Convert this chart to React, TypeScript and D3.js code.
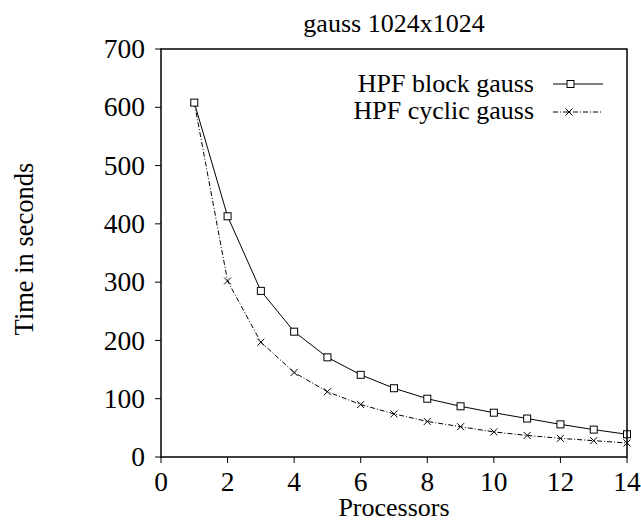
import React from 'react';
import * as d3 from 'd3';

const processors = [1, 2, 3, 4, 5, 6, 7, 8, 9, 10, 11, 12, 13, 14];
const blockGauss = [608, 413, 285, 215, 171, 141, 118, 100, 87, 76, 66, 56, 47, 39];
const cyclicGauss = [608, 302, 197, 145, 112, 90, 74, 61, 52, 43, 37, 32, 28, 24];
const xTicks = [0, 2, 4, 6, 8, 10, 12, 14];
const yTicks = [0, 100, 200, 300, 400, 500, 600, 700];

const width = 641;
const height = 523;
const margin = { top: 49, right: 14, bottom: 66, left: 161 };
const font = '"Liberation Serif", "DejaVu Serif", serif';
const fs = 27.5;

const App = () => {
  const innerWidth = width - margin.left - margin.right;
  const innerHeight = height - margin.top - margin.bottom;

  const x = d3.scaleLinear().domain([0, 14]).range([0, innerWidth]);
  const y = d3.scaleLinear().domain([0, 700]).range([innerHeight, 0]);

  const line = d3
    .line<number>()
    .x((d, i) => x(processors[i]))
    .y((d) => y(d));

  const square = (cx: number, cy: number, k: string) => (
    <rect key={k} x={cx - 3.5} y={cy - 3.5} width={7} height={7} fill="white" stroke="black" strokeWidth={1} />
  );
  const cross = (cx: number, cy: number, k: string) => (
    <path key={k} d={`M${cx - 3.5},${cy - 3.5}L${cx + 3.5},${cy + 3.5}M${cx - 3.5},${cy + 3.5}L${cx + 3.5},${cy - 3.5}`} stroke="black" strokeWidth={1} />
  );

  const dash = '5,2,1,2';

  return (
    <svg width={width} height={height} style={{ position: 'absolute', left: 0, top: 0 }} fontFamily={font} fontSize={fs}>
      <rect width={width} height={height} fill="white" />
      <text x={394} y={32} textAnchor="middle" fontSize={26}>gauss 1024x1024</text>
      <g transform={`translate(${margin.left},${margin.top})`}>
        {yTicks.map((t) => (
          <g key={'y' + t}>
            <line x1={-6} x2={0} y1={y(t)} y2={y(t)} stroke="black" />
            <text x={-16} y={y(t)} dy="0.33em" textAnchor="end">{t}</text>
          </g>
        ))}
        {xTicks.map((t) => (
          <g key={'x' + t}>
            <line x1={x(t)} x2={x(t)} y1={innerHeight} y2={innerHeight + 6} stroke="black" />
            <text x={x(t)} y={innerHeight + 34} textAnchor="middle">{t}</text>
          </g>
        ))}
        <path d={line(blockGauss) || ''} fill="none" stroke="black" strokeWidth={1} />
        <path d={line(cyclicGauss) || ''} fill="none" stroke="black" strokeWidth={1} strokeDasharray={dash} />
        {cyclicGauss.map((v, i) => cross(x(processors[i]), y(v), 'c' + i))}
        {blockGauss.map((v, i) => square(x(processors[i]), y(v), 'b' + i))}
        <rect x={0} y={0} width={innerWidth} height={innerHeight} fill="none" stroke="black" strokeWidth={1.5} />
      </g>
      <g fontSize={26}>
        <text x={534} y={92} textAnchor="end">HPF block gauss</text>
        <line x1={553} x2={603} y1={84} y2={84} stroke="black" />
        {square(570.5, 84, 'lb')}
        <text x={534} y={119} textAnchor="end">HPF cyclic gauss</text>
        <line x1={553} x2={603} y1={112} y2={112} stroke="black" strokeDasharray={dash} />
        {cross(569, 112, 'lc')}
      </g>
      <text x={394} y={516} textAnchor="middle" fontSize={26}>Processors</text>
      <text transform="translate(33,249) rotate(-90)" textAnchor="middle" fontSize={26.5}>Time in seconds</text>
    </svg>
  );
};

export default App;
